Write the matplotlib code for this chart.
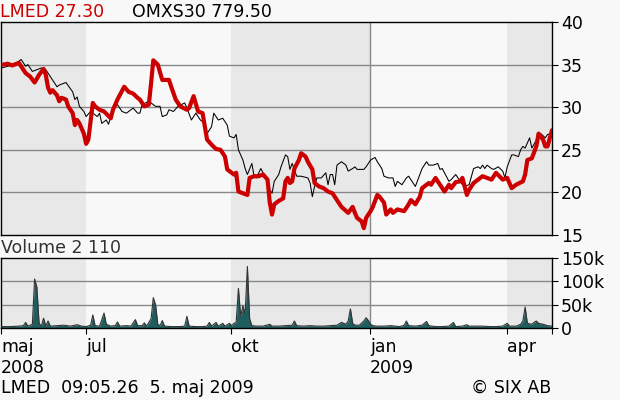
import matplotlib
matplotlib.use("Agg")
import matplotlib.pyplot as plt
from matplotlib.transforms import blended_transform_factory

# ---------------- data (x = trading-day index from 5 May 2008) ----------------
lmed_day = [1, 3, 5, 8, 9, 11, 13, 15, 17, 19, 20, 21, 22, 23, 25, 26, 27, 29, 30, 32,
            33, 34, 35, 37, 38, 39, 41, 42, 44, 46, 49, 50, 52, 55, 57, 59, 61, 62, 64, 66,
            67, 68, 70, 72, 75, 76, 78, 80, 83, 84, 86, 88, 90, 92, 94, 96, 98, 100, 101, 104,
            105, 106, 108, 110, 111, 113, 115, 117, 119, 120, 121, 122, 124, 126, 127, 128, 129, 130, 131, 133,
            134, 136, 137, 139, 140, 142, 144, 146, 148, 150, 152, 155, 157, 158, 159, 161, 162, 163, 165, 166,
            168, 169, 171, 172, 174, 175, 177, 180, 182, 183, 185, 187, 188, 191, 192, 194, 196, 198, 200, 201,
            203, 205, 206, 208, 209, 211, 213, 215, 217, 219, 221, 224, 226, 227, 228, 230, 233, 234, 235, 237,
            239, 240, 242, 243, 244, 246]
lmed_val = [35.0, 35.1, 34.9, 35.2, 34.8, 34.0, 33.6, 32.9, 33.8, 34.5, 33.8, 32.3, 31.7, 32.0, 31.4, 30.7, 31.1, 30.9, 30.1, 29.3,
            27.9, 28.5, 28.1, 26.9, 25.7, 26.2, 30.5, 30.1, 29.7, 29.5, 28.7, 29.7, 30.9, 32.4, 31.8, 31.6, 31.1, 30.9, 30.1, 30.3,
            32.8, 35.5, 35.0, 33.2, 33.2, 32.4, 30.9, 30.1, 29.7, 29.9, 31.3, 29.5, 29.3, 26.2, 25.6, 25.1, 25.0, 24.2, 22.7, 22.1,
            22.3, 20.1, 19.9, 19.7, 21.7, 21.9, 21.9, 22.1, 21.5, 18.8, 17.4, 18.6, 19.0, 19.3, 21.3, 21.7, 21.1, 21.3, 22.8, 23.8,
            24.6, 24.2, 23.6, 22.7, 21.1, 20.7, 20.5, 20.1, 19.9, 19.1, 18.3, 17.6, 18.3, 17.6, 17.0, 16.6, 15.8, 17.0, 17.8, 18.3,
            19.7, 19.5, 18.8, 17.4, 18.0, 17.6, 18.0, 17.8, 18.6, 19.1, 18.6, 19.5, 20.5, 21.1, 20.9, 21.7, 20.9, 20.1, 20.9, 20.5,
            21.2, 21.3, 21.7, 19.7, 20.3, 21.1, 21.5, 21.9, 21.7, 21.5, 22.3, 21.5, 21.7, 21.1, 20.5, 20.9, 21.3, 22.1, 23.8, 24.0,
            25.4, 26.9, 26.2, 25.4, 25.4, 27.3]

omx_day = [0, 3, 5, 7, 9, 11, 12, 14, 16, 18, 20, 22, 24, 25, 26, 28, 29, 32, 33, 34,
           35, 37, 38, 40, 43, 44, 45, 47, 48, 50, 52, 54, 56, 58, 59, 61, 62, 63, 66, 69,
           71, 72, 74, 75, 77, 79, 82, 83, 85, 87, 89, 91, 92, 94, 95, 97, 99, 101, 102, 104,
           105, 106, 108, 109, 110, 112, 113, 114, 116, 119, 120, 121, 122, 124, 125, 127, 128, 129, 130, 132,
           134, 137, 138, 139, 140, 141, 143, 145, 146, 147, 148, 149, 150, 152, 154, 155, 157, 158, 159, 162,
           163, 165, 167, 168, 170, 171, 173, 175, 176, 177, 179, 181, 182, 184, 185, 187, 188, 190, 191, 193,
           195, 196, 197, 200, 201, 203, 204, 206, 207, 209, 211, 213, 214, 215, 216, 217, 219, 220, 222, 224,
           225, 226, 228, 229, 231, 232, 233, 234, 236, 237, 240, 241, 243, 244, 246]
omx_val = [34.6, 34.8, 35.0, 35.2, 35.6, 34.8, 35.0, 34.2, 34.4, 34.6, 34.4, 33.6, 32.8, 32.4, 32.6, 32.8, 32.9, 31.8, 30.9, 31.2,
           30.1, 29.5, 28.9, 29.5, 28.9, 29.3, 28.1, 28.5, 28.0, 29.7, 30.3, 29.5, 29.3, 29.7, 29.9, 29.3, 29.3, 30.3, 30.7, 30.1,
           30.1, 28.9, 29.1, 29.7, 29.5, 30.1, 30.5, 29.9, 28.5, 29.3, 28.5, 28.1, 26.9, 27.7, 29.3, 28.5, 28.7, 27.9, 26.6, 26.4,
           26.8, 25.0, 23.8, 22.8, 22.1, 23.4, 21.9, 21.7, 22.8, 21.3, 20.3, 19.9, 21.3, 22.1, 23.0, 24.4, 24.2, 22.7, 23.4, 21.9,
           21.9, 21.7, 21.1, 19.5, 20.7, 21.7, 21.7, 22.3, 20.9, 22.1, 22.1, 20.9, 23.2, 23.6, 23.2, 22.5, 22.8, 23.0, 22.7, 22.7,
           23.0, 23.8, 24.1, 23.6, 22.8, 21.9, 21.7, 21.7, 20.7, 21.3, 20.9, 21.7, 21.9, 21.1, 20.7, 22.1, 22.8, 23.6, 23.2, 23.2,
           23.4, 22.7, 22.8, 21.3, 21.5, 22.1, 21.7, 20.9, 20.7, 20.9, 22.8, 23.0, 22.8, 23.2, 22.8, 23.2, 22.8, 22.7, 23.0, 22.5,
           21.7, 23.0, 24.4, 24.4, 24.2, 25.0, 25.4, 25.2, 26.4, 25.2, 26.6, 26.9, 26.4, 26.8, 26.9]

vol_day = [0, 4, 8, 10, 11, 12, 14, 15, 16, 17, 18, 19, 20, 21, 22, 25, 28, 31, 34, 36,
           38, 40, 41, 42, 44, 46, 47, 49, 51, 52, 53, 56, 58, 60, 61, 63, 64, 65, 67, 68,
           69, 70, 71, 72, 73, 76, 80, 82, 83, 84, 87, 90, 92, 93, 94, 96, 97, 99, 100, 102,
           103, 104, 105, 106, 107, 108, 109, 110, 111, 112, 114, 117, 120, 121, 124, 127, 130, 131, 132, 135,
           138, 141, 144, 147, 150, 152, 154, 155, 156, 157, 158, 160, 162, 163, 164, 165, 166, 168, 171, 174,
           176, 178, 180, 181, 182, 185, 188, 190, 191, 194, 197, 200, 202, 203, 206, 208, 209, 212, 215, 218,
           221, 224, 226, 227, 230, 232, 233, 234, 235, 237, 238, 239, 240, 242, 244, 246]
vol_k = [3, 3, 4, 5, 12, 4, 8, 105, 88, 10, 4, 21, 4, 15, 4, 5, 6, 4, 7, 4,
         3, 6, 28, 5, 4, 32, 8, 4, 5, 13, 4, 5, 4, 18, 5, 5, 11, 4, 20, 65,
         50, 8, 5, 16, 4, 3, 3, 4, 25, 4, 3, 3, 4, 12, 4, 12, 4, 10, 4, 10,
         5, 10, 12, 85, 25, 48, 30, 132, 20, 5, 4, 4, 8, 4, 4, 5, 6, 15, 5, 4,
         5, 4, 4, 5, 6, 12, 8, 15, 41, 10, 6, 6, 15, 22, 16, 8, 5, 4, 4, 5,
         4, 3, 6, 15, 5, 4, 6, 14, 5, 3, 3, 4, 12, 3, 4, 7, 4, 4, 4, 3,
         3, 4, 10, 4, 4, 8, 15, 45, 10, 8, 12, 15, 10, 8, 5, 4]

month_pos = [0, 37.9, 102.7, 164.7, 225.9]
month_labels = ["maj", "jul", "okt", "jan", "apr"]
year_labels = ["2008", "", "", "2009", ""]
price_ticks = [15, 20, 25, 30, 35, 40]
vol_ticks = [0, 50, 100, 150]
vol_tick_labels = ["0", "50k", "100k", "150k"]

# ---------------- figure ----------------
W, H = 620, 400
BG = "#f8f8f8"
SHADE = "#e8e8e8"
GRID = "#888888"
FS = 12.5
fig = plt.figure(figsize=(W / 100, H / 100), dpi=100, facecolor=BG)


def fx(px):
    return px / W


def fy(py):
    return 1 - py / H


x_end = 246
ax = fig.add_axes([fx(1), fy(235), fx(551), 213 / H])
axv = fig.add_axes([fx(1), fy(328), fx(551), 70 / H])

shade_spans = [(month_pos[0], month_pos[1]), (month_pos[2], month_pos[3]), (month_pos[4], x_end)]
for a in (ax, axv):
    a.set_facecolor(BG)
    a.set_xlim(0, x_end)
    for s0, s1 in shade_spans:
        a.axvspan(s0, s1, color=SHADE, lw=0, zorder=0)
    a.axvline(month_pos[3], color=GRID, lw=1.0, zorder=1)
    for sp in a.spines.values():
        sp.set_color("black")
        sp.set_linewidth(1.0)
    a.yaxis.tick_right()
    a.tick_params(axis="y", direction="out", length=4, width=0.8, pad=2.5,
                  labelsize=FS, colors="black")

# price panel
ax.set_ylim(15, 40)
ax.set_yticks(price_ticks)
ax.set_yticklabels([str(t) for t in price_ticks])
for t in price_ticks[1:-1]:
    ax.axhline(t, color=GRID, lw=1.0, zorder=1)
ax.set_xticks([])
ax.plot(omx_day, omx_val, color="black", lw=0.75, zorder=3)
ax.plot(lmed_day, lmed_val, color="#cc0000", lw=3.0, zorder=4,
        solid_joinstyle="round", solid_capstyle="round")

# volume panel
axv.set_ylim(0, 150)
axv.set_yticks(vol_ticks)
axv.set_yticklabels(vol_tick_labels)
for t in vol_ticks[1:-1]:
    axv.axhline(t, color=GRID, lw=1.0, zorder=1)
axv.fill_between(vol_day, vol_k, 0, color="#1f5e5e", lw=0, zorder=2)
axv.plot(vol_day, vol_k, color="#333333", lw=0.8, zorder=3)
axv.set_xticks(month_pos + [x_end])
axv.set_xticklabels([])
axv.tick_params(axis="x", direction="out", length=4, width=0.8, colors="black")

# month / year labels
tr = blended_transform_factory(axv.transData, fig.transFigure)
for p, m, yl in zip(month_pos, month_labels, year_labels):
    fig.text(p, fy(352), m, transform=tr, ha="left", va="baseline", fontsize=FS)
    if yl:
        fig.text(p, fy(373), yl, transform=tr, ha="left", va="baseline", fontsize=FS)

# header / footer texts
fig.text(fx(0), fy(17), "LMED 27.30", color="#cc0000", fontsize=FS, ha="left", va="baseline")
fig.text(fx(132), fy(17), "OMXS30 779.50", color="black", fontsize=FS, ha="left", va="baseline")
fig.text(fx(1), fy(253), "Volume 2 110", color="#333333", fontsize=FS, ha="left", va="baseline")
fig.text(fx(1), fy(393), "LMED  09:05.26  5. maj 2009", color="black", fontsize=FS,
         ha="left", va="baseline")
fig.text(fx(551), fy(393), "\u00a9 SIX AB", color="black", fontsize=FS, ha="right", va="baseline")

fig.savefig("out.png", dpi=100, facecolor=BG)
